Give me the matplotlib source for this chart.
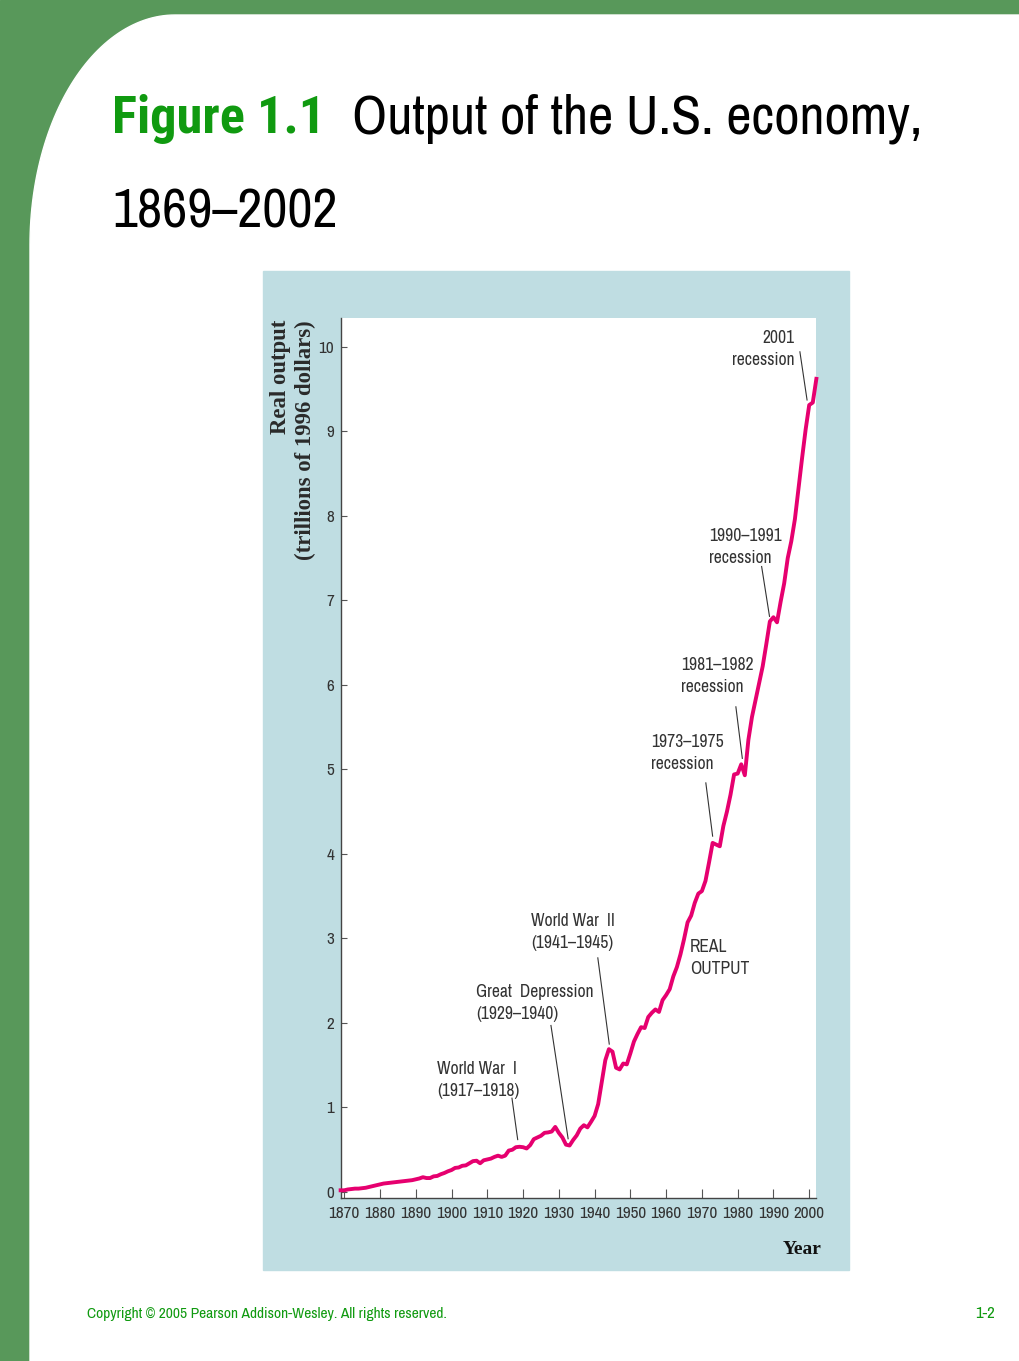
import matplotlib
matplotlib.use("Agg")
import matplotlib.pyplot as plt
from matplotlib import font_manager as fm
from matplotlib.patches import Rectangle, Polygon
import numpy as np

# ---------------- data ----------------
years = list(range(1869, 2003))
output = [
    0.02, 0.02, 0.03, 0.035, 0.04, 0.04, 0.045, 0.05, 0.06, 0.07,   # 1869-1878
    0.08, 0.09, 0.10, 0.105, 0.11, 0.115, 0.12, 0.125, 0.13, 0.135, # 1879-1888
    0.14, 0.15, 0.16, 0.175, 0.165, 0.165, 0.185, 0.19, 0.21, 0.225, # 1889-1898
    0.245, 0.26, 0.285, 0.29, 0.31, 0.315, 0.34, 0.365, 0.37, 0.34, # 1899-1908
    0.375, 0.385, 0.395, 0.415, 0.43, 0.415, 0.43, 0.49, 0.50, 0.53, # 1909-1918
    0.535, 0.53, 0.515, 0.555, 0.625, 0.645, 0.665, 0.70, 0.705, 0.715, # 1919-1928
    0.77, 0.70, 0.645, 0.56, 0.55, 0.615, 0.67, 0.75, 0.79, 0.765,  # 1929-1938
    0.83, 0.90, 1.04, 1.30, 1.56, 1.69, 1.66, 1.47, 1.45, 1.52,     # 1939-1948
    1.51, 1.64, 1.78, 1.87, 1.95, 1.94, 2.07, 2.12, 2.16, 2.13,     # 1949-1958
    2.27, 2.33, 2.40, 2.55, 2.66, 2.81, 2.99, 3.19, 3.27, 3.42,     # 1959-1968
    3.53, 3.56, 3.68, 3.90, 4.13, 4.11, 4.09, 4.33, 4.50, 4.70,     # 1969-1978
    4.94, 4.95, 5.06, 4.93, 5.35, 5.62, 5.82, 6.02, 6.22, 6.48,     # 1979-1988
    6.75, 6.80, 6.74, 6.98, 7.20, 7.50, 7.70, 7.96, 8.32, 8.68,     # 1989-1998
    9.02, 9.31, 9.34, 9.62,                                         # 1999-2002
]
x_ticks = list(range(1870, 2001, 10))
y_ticks = list(range(0, 11))

annotations = [
    # text, text anchor (year, value), ha, leader start, leader end
    ("World War  I\n(1917\u20131918)", (1895.9, 1.55), "left", (1916.9, 1.11), (1918.5, 0.62)),
    ("Great  Depression\n(1929\u20131940)", (1906.8, 2.46), "left", (1927.8, 1.97), (1932.6, 0.63)),
    ("World War  II\n(1941\u20131945)", (1922.2, 3.30), "left", (1940.9, 2.77), (1944.1, 1.75)),
    ("REAL\nOUTPUT", (1966.7, 2.99), "left", None, None),
    ("1973\u20131975\nrecession", (1955.8, 5.42), "left", (1971.1, 4.84), (1973.0, 4.21)),
    ("1981\u20131982\nrecession", (1964.1, 6.33), "left", (1979.5, 5.74), (1981.3, 5.13)),
    ("1990\u20131991\nrecession", (1972.0, 7.85), "left", (1986.7, 7.40), (1988.9, 6.81)),
    ("2001\nrecession", (1996.0, 10.20), "right", (1997.4, 9.94), (1999.4, 9.37)),
]

# ---------------- fonts ----------------
entries = fm.fontManager.ttflist
names = {f.name for f in entries}
def pick(*cands):
    for c in cands:
        if c in names:
            return c
    return "DejaVu Sans"
def pick_bold(*cands):
    for c in cands:
        for f in entries:
            w = f.weight if isinstance(f.weight, int) else (700 if f.weight == "bold" else 400)
            if f.name == c and w >= 600 and f.style == "normal":
                return c
    return "DejaVu Sans"
NARROW = pick("Archivo Narrow", "Liberation Sans Narrow", "Roboto Condensed", "Asap Condensed",
              "DejaVu Sans Condensed", "Liberation Sans")
NARROW_B = pick_bold("Liberation Sans Narrow", "Archivo Narrow", "Roboto Condensed",
                     "Asap Condensed", "Liberation Sans")
SERIF = pick("Liberation Serif", "DejaVu Serif")

W, H = 1020, 1361
fig = plt.figure(figsize=(W / 100, H / 100), dpi=100)
renderer = fig.canvas.get_renderer()

def size_for(text, width_px, family, weight="normal", ref=20.0):
    t = fig.text(0, 0, text, fontsize=ref, family=family, fontweight=weight)
    w = t.get_window_extent(renderer).width
    t.remove()
    return ref * width_px / w

# background frame in pixel coordinates
bg = fig.add_axes([0, 0, 1, 1])
bg.set_xlim(0, W)
bg.set_ylim(H, 0)
bg.axis("off")
bg.add_patch(Rectangle((0, 0), W, H, color="#58985a", zorder=0))
t = np.linspace(np.pi, 1.5 * np.pi, 60)
cx, cy, rx, ry = 175, 245, 145, 230
corner = [(cx + rx * np.cos(a), cy + ry * np.sin(a)) for a in t]
poly = [(30, H)] + corner + [(W, 15), (W, H)]
bg.add_patch(Polygon(poly, closed=True, color="white", zorder=1))
bg.add_patch(Rectangle((263, 271), 586, 999, color="#bfdde2", zorder=2))

fs_fig = size_for("Figure 1.1", 212, NARROW_B, "bold")
fs_out = size_for("Output of the U.S. economy,", 570, NARROW)
fs_yr = size_for("1869\u20132002", 226, NARROW)
fig.text(112 / W, 1 - 133 / H, "Figure 1.1", color="#109a10", fontsize=fs_fig,
         fontweight="bold", family=NARROW_B, ha="left", va="baseline")
fig.text(352 / W, 1 - 133 / H, "Output of the U.S. economy,", color="black", fontsize=fs_out,
         family=NARROW, ha="left", va="baseline")
fig.text(112 / W, 1 - 227 / H, "1869\u20132002", color="black", fontsize=fs_yr,
         family=NARROW, ha="left", va="baseline")
fs_c = size_for("Copyright \u00a9 2005 Pearson Addison-Wesley. All rights reserved.", 359, NARROW)
fig.text(87 / W, 1 - 1318 / H, "Copyright \u00a9 2005 Pearson Addison-Wesley. All rights reserved.",
         color="#109a10", fontsize=fs_c, family=NARROW, ha="left", va="baseline")
fig.text(995 / W, 1 - 1318 / H, "1-2", color="#109a10", fontsize=fs_c + 1,
         family=NARROW, ha="right", va="baseline")

# main axes
fs_tick = min(size_for("1870", 29, NARROW) * 1.08, 14)
fs_ann = min(size_for("recession", 54, NARROW) * 1.15, 14)

ax = fig.add_axes([341 / W, 1 - 1198 / H, (816 - 341) / W, (1198 - 318) / H])
ax.set_facecolor("white")
ax.plot(years, output, color="#e6006f", lw=2.8, clip_on=False, zorder=3,
        solid_joinstyle="round")
ax.set_xlim(1869.1, 2001.9)
ax.set_ylim(-0.071, 10.34)
ax.set_xticks(x_ticks)
ax.set_yticks(y_ticks)
ax.set_xticklabels([str(v) for v in x_ticks], family=NARROW, fontsize=fs_tick, color="#333333")
ax.set_yticklabels([str(v) for v in y_ticks], family=NARROW, fontsize=fs_tick, color="#333333")
ax.tick_params(axis="x", direction="in", length=6.5, width=0.8, color="#555555", pad=6)
ax.tick_params(axis="y", direction="in", length=4.5, width=0.8, color="#555555", pad=5)
for s in ("top", "right"):
    ax.spines[s].set_visible(False)
for s in ("left", "bottom"):
    ax.spines[s].set_color("#444444")
    ax.spines[s].set_linewidth(1.0)

for text, (tx, ty), ha, p0, p1 in annotations:
    ax.text(tx, ty, text, ha=ha, va="top", family=NARROW, fontsize=fs_ann,
            color="#333333", linespacing=1.45, multialignment=ha)
    if p0 is not None:
        ax.plot([p0[0], p1[0]], [p0[1], p1[1]], color="#333333", lw=0.8, zorder=2)

fs_yl = size_for("(trillions of 1996 dollars)", 240, SERIF, "bold")
fig.text(293 / W, 1 - 320 / H, "Real output\n(trillions of 1996 dollars)", rotation=90,
         ha="center", va="top", family=SERIF, fontweight="bold", fontsize=fs_yl,
         color="#2a2a2a", linespacing=1.2, multialignment="right")
fig.text(822 / W, 1 - 1254 / H, "Year", ha="right", va="baseline", family=SERIF,
         fontweight="bold", fontsize=14, color="#111111")

fig.savefig("out.png", dpi=100)
